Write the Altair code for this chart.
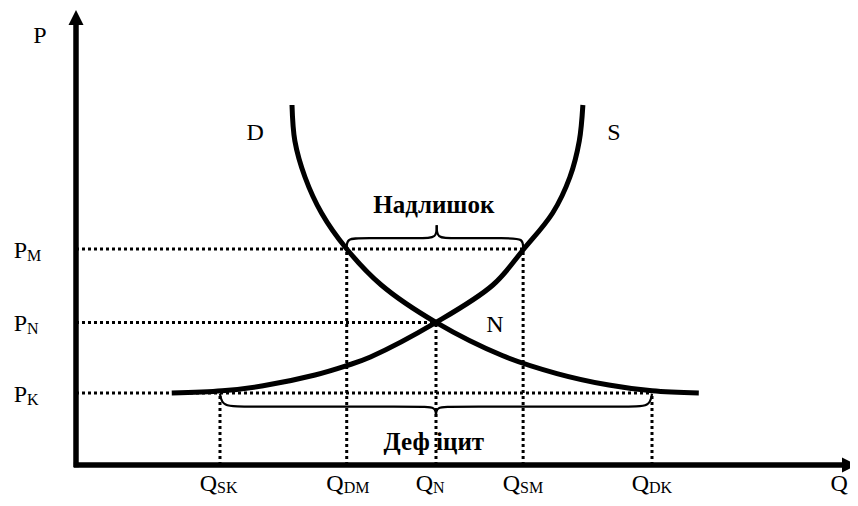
import altair as alt
import pandas as pd

# ---------------- values ----------------
# quantity levels on the Q axis
q_names = ["SK", "DM", "N", "SM", "DK"]
q_values = [2.00, 3.76, 5.00, 6.21, 8.00]
# price level that each vertical guide rises to
q_guide_top = [1.00, 3.00, 1.98, 3.00, 1.00]

# price levels on the P axis
p_names = ["M", "N", "K"]
p_values = [3.00, 1.98, 1.00]
# quantity where each horizontal guide ends
p_guide_end = [6.21, 5.00, 8.00]

# demand curve D
demand_q = [3.00, 3.04, 3.18, 3.41, 3.76, 4.24, 5.00, 5.92, 6.68, 7.40, 8.00, 8.65]
demand_p = [5.00, 4.50, 4.00, 3.50, 3.00, 2.50, 1.98, 1.52, 1.27, 1.11, 1.03, 1.00]

# supply curve S
supply_q = [1.33, 2.03, 2.60, 3.32, 3.76, 4.09, 5.00, 5.79, 6.22, 6.62, 6.86, 6.99, 7.04]
supply_p = [1.00, 1.03, 1.10, 1.25, 1.38, 1.50, 1.98, 2.50, 3.00, 3.50, 4.00, 4.50, 5.00]

# brace over the surplus (two halves)
surplus_q = [3.76, 3.76, 3.97, 4.81, 5.01, 5.01,
             5.01, 5.01, 5.22, 6.00, 6.21, 6.21]
surplus_p = [3.00, 3.15, 3.15, 3.15, 3.15, 3.33,
             3.33, 3.15, 3.15, 3.15, 3.15, 3.00]
surplus_half = ["a"] * 6 + ["b"] * 6

# brace under the deficit (two halves)
deficit_q = [2.00, 2.03, 2.35, 4.78, 5.00, 5.00,
             5.00, 5.00, 5.22, 7.69, 7.97, 8.00]
deficit_p = [0.99, 0.81, 0.81, 0.81, 0.81, 0.67,
             0.67, 0.81, 0.81, 0.81, 0.81, 0.99]
deficit_half = ["a"] * 6 + ["b"] * 6

# axes extent and arrow heads
axis_q_end = 10.65
axis_p_end = 6.11
arrow_up_at = (0.0, 6.215)
arrow_right_at = (10.743, 0.0)

# plain labels
labels_text = ["P", "D", "S", "N", "Q"]
labels_q = [-0.50, 2.49, 7.47, 5.82, 10.60]
labels_p = [5.86, 4.51, 4.51, 1.85, -0.36]

# bold labels
bold_text = ["Надлишок", "Деф іцит"]
bold_q = [4.97, 4.97]
bold_p = [3.50, 0.21]

# anchor rows for axis level labels
q_label_p = -0.36
p_label_q = -0.68

FONT = "Liberation Serif"

xs = alt.Scale(domain=[-0.9444, 10.75], nice=False, zero=False)
ys = alt.Scale(domain=[-0.4583, 6.3472], nice=False, zero=False)


def X(field="q"):
    return alt.X(f"{field}:Q", scale=xs, axis=None)


def Y(field="p"):
    return alt.Y(f"{field}:Q", scale=ys, axis=None)


# ---------------- data tables ----------------
vguides = pd.DataFrame({"q": q_values, "p": [0.0] * len(q_values), "p2": q_guide_top})
hguides = pd.DataFrame({"q": [0.0] * len(p_values), "q2": p_guide_end, "p": p_values})

curves = pd.concat([
    pd.DataFrame({"q": demand_q, "p": demand_p, "curve": "D", "i": range(len(demand_q))}),
    pd.DataFrame({"q": supply_q, "p": supply_p, "curve": "S", "i": range(len(supply_q))}),
])

braces = pd.concat([
    pd.DataFrame({"q": surplus_q, "p": surplus_p,
                  "part": ["s" + h for h in surplus_half], "i": range(len(surplus_q))}),
    pd.DataFrame({"q": deficit_q, "p": deficit_p,
                  "part": ["d" + h for h in deficit_half], "i": range(len(deficit_q))}),
])

axes_df = pd.DataFrame({
    "q": [0.0, -0.03], "q2": [0.0, axis_q_end],
    "p": [-0.03, 0.0], "p2": [axis_p_end, 0.0],
})

arrows_up = pd.DataFrame({"q": [arrow_up_at[0]], "p": [arrow_up_at[1]]})
arrows_right = pd.DataFrame({"q": [arrow_right_at[0]], "p": [arrow_right_at[1]]})

plain_df = pd.DataFrame({"t": labels_text, "q": labels_q, "p": labels_p})
bold_df = pd.DataFrame({"t": bold_text, "q": bold_q, "p": bold_p})

q_main = pd.DataFrame({"t": ["Q"] * len(q_names), "q": q_values, "p": [q_label_p] * len(q_names)})
q_sub = pd.DataFrame({"t": q_names, "q": q_values, "p": [q_label_p] * len(q_names)})
p_main = pd.DataFrame({"t": ["P"] * len(p_names), "q": [p_label_q] * len(p_names), "p": p_values})
p_sub = pd.DataFrame({"t": p_names, "q": [p_label_q] * len(p_names), "p": p_values})

# ---------------- layers ----------------
dot_style = dict(color="black", strokeWidth=3, strokeDash=[3, 3])

vg = alt.Chart(vguides).mark_rule(**dot_style).encode(x=X(), y=Y(), y2="p2:Q")
hg = alt.Chart(hguides).mark_rule(**dot_style).encode(x=X(), x2="q2:Q", y=Y())

curve_layer = alt.Chart(curves).mark_line(
    color="black", strokeWidth=5, interpolate="catmull-rom"
).encode(x=X(), y=Y(), detail="curve:N", order="i:Q")

brace_layer = alt.Chart(braces).mark_line(
    color="black", strokeWidth=2.2, interpolate="basis"
).encode(x=X(), y=Y(), detail="part:N", order="i:Q")

axis_layer = alt.Chart(axes_df).mark_rule(color="black", strokeWidth=5.5).encode(
    x=X(), x2="q2:Q", y=Y(), y2="p2:Q"
)

arrow_up_layer = alt.Chart(arrows_up).mark_point(
    shape="M-1,1L0,-1L1,1Z", filled=True, fill="black", size=225, opacity=1
).encode(x=X(), y=Y())
arrow_right_layer = alt.Chart(arrows_right).mark_point(
    shape="M-1,-1L1,0L-1,1Z", filled=True, fill="black", size=225, opacity=1
).encode(x=X(), y=Y())

plain_layer = alt.Chart(plain_df).mark_text(
    font=FONT, fontSize=24, color="black", align="center", baseline="alphabetic"
).encode(x=X(), y=Y(), text="t:N")

bold_layer = alt.Chart(bold_df).mark_text(
    font=FONT, fontSize=25, fontWeight="bold", color="black", align="center", baseline="alphabetic"
).encode(x=X(), y=Y(), text="t:N")

qm_layer = alt.Chart(q_main).mark_text(
    font=FONT, fontSize=24, color="black", align="right", baseline="alphabetic", dx=-3
).encode(x=X(), y=Y(), text="t:N")
qs_layer = alt.Chart(q_sub).mark_text(
    font=FONT, fontSize=16, color="black", align="left", baseline="alphabetic", dx=-3, dy=2.5
).encode(x=X(), y=Y(), text="t:N")

pm_layer = alt.Chart(p_main).mark_text(
    font=FONT, fontSize=24, color="black", align="right", baseline="alphabetic", dy=9
).encode(x=X(), y=Y(), text="t:N")
ps_layer = alt.Chart(p_sub).mark_text(
    font=FONT, fontSize=16, color="black", align="left", baseline="alphabetic", dy=12
).encode(x=X(), y=Y(), text="t:N")

chart = alt.layer(
    vg, hg, brace_layer, curve_layer, axis_layer, arrow_up_layer, arrow_right_layer,
    plain_layer, bold_layer, qm_layer, qs_layer, pm_layer, ps_layer,
).properties(
    width=842, height=490, padding=0, autosize=alt.AutoSizeParams(type="none"),
    background="white",
).configure_view(stroke=None)

chart.save("out.html", embed_options={"renderer": "svg", "actions": False})
